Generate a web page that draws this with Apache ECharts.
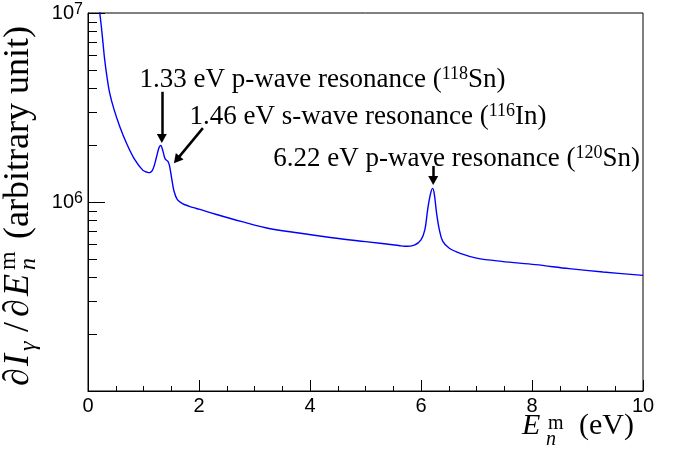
<!DOCTYPE html>
<html>
<head>
<meta charset="utf-8">
<script src="https://cdn.jsdelivr.net/npm/echarts@6/dist/echarts.min.js"></script>
<style>
html,body{margin:0;padding:0;background:#fff;}
#chart{width:678px;height:452px;}
</style>
</head>
<body>
<div id="chart"></div>
<script>
// ---- data ----
const energy = [0.20, 0.24, 0.27, 0.30, 0.34, 0.39, 0.47, 0.57, 0.69, 0.84, 0.99, 1.06, 1.11, 1.17, 1.23, 1.28, 1.31, 1.35, 1.39, 1.44, 1.47, 1.51, 1.55, 1.61, 1.71, 1.80, 1.90, 2.00, 2.30, 2.60, 3.20, 3.80, 4.40, 5.00, 5.60, 5.70, 5.88, 6.00, 6.07, 6.12, 6.17, 6.21, 6.24, 6.28, 6.33, 6.39, 6.51, 6.72, 7.00, 7.45, 8.06, 8.67, 9.28, 10.00];
const intensity = [1.07e7, 8.51e6, 6.95e6, 5.68e6, 4.63e6, 3.78e6, 3.08e6, 2.52e6, 2.06e6, 1.68e6, 1.47e6, 1.44e6, 1.43e6, 1.49e6, 1.71e6, 1.94e6, 1.99e6, 1.86e6, 1.69e6, 1.64e6, 1.55e6, 1.32e6, 1.14e6, 1.03e6, 9.77e5, 9.55e5, 9.33e5, 9.16e5, 8.61e5, 8.13e5, 7.31e5, 6.85e5, 6.47e5, 6.17e5, 5.89e5, 5.83e5, 5.92e5, 6.31e5, 7.14e5, 9.12e5, 1.10e6, 1.18e6, 1.10e6, 8.77e5, 7.14e5, 6.21e5, 5.69e5, 5.33e5, 5.05e5, 4.85e5, 4.66e5, 4.44e5, 4.26e5, 4.09e5];

const xMin = 0, xMax = 10, xInterval = 2;
const yMin = 1e5, yMax = 1e7;
const yMinorTickValues = [2e5, 3e5, 4e5, 5e5, 6e5, 7e5, 8e5, 9e5, 2e6, 3e6, 4e6, 5e6, 6e6, 7e6, 8e6, 9e6];

// annotation texts: [energy, value] anchor of the text's left/middle
const annotationText = [
  '{t|1.33 eV p-wave resonance (}{s|118}{t|Sn)}',
  '{t|1.46 eV s-wave resonance (}{s|116}{t|In)}',
  '{t|6.22 eV p-wave resonance (}{s|120}{t|Sn)}'
];
const annotationX = [0.93, 1.83, 3.34];
const annotationY = [4.42e6, 2.82e6, 1.69e6];

// arrows: start and end points [energy, value]
const arrowStart = [[1.33, 3.83e6], [2.07, 2.46e6], [6.22, 1.55e6]];
const arrowEnd   = [[1.33, 2.17e6], [1.60, 1.675e6], [6.22, 1.30e6]];

const xTitleParts = ['E', 'n', 'm', '(eV)'];
const yTitle = '{d|∂}{I|I}{g|γ}{sl|/}{d2|∂}{E|E}{n|n}{m|m}{sp| }{t|(arbitrary unit)}';

// ---- chart ----
const serif = 'Liberation Serif';
const sans = 'Liberation Sans';

const chart = echarts.init(document.getElementById('chart'), null, {renderer: 'canvas'});

const option = {
  animation: false,
  backgroundColor: '#fff',
  grid: {
    left: 88, right: 35, top: 13, bottom: 61,
    containLabel: false,
    outerBoundsMode: 'none',
    show: true, borderColor: '#000', borderWidth: 1, backgroundColor: 'transparent'
  },
  graphic: [
    {
      type: 'group',
      silent: true,
      children: [
        {type: 'text', x: 522, y: 426, style: {text: xTitleParts[0], font: 'italic 30px "Liberation Serif"', fill: '#000', align: 'left', verticalAlign: 'middle'}},
        {type: 'text', x: 546, y: 440, style: {text: xTitleParts[1], font: 'italic 20px "Liberation Serif"', fill: '#000', align: 'left', verticalAlign: 'middle'}},
        {type: 'text', x: 548, y: 424, style: {text: xTitleParts[2], font: '20px "Liberation Serif"', fill: '#000', align: 'left', verticalAlign: 'middle'}},
        {type: 'text', x: 579, y: 426, style: {text: xTitleParts[3], font: '30px "Liberation Serif"', fill: '#000', align: 'left', verticalAlign: 'middle'}}
      ]
    }
  ],
  xAxis: {
    type: 'value',
    min: xMin, max: xMax, interval: xInterval,
    axisLine: {show: true, onZero: false, lineStyle: {color: '#000', width: 1}},
    axisTick: {show: true, inside: true, length: 11, lineStyle: {color: '#000', width: 1}},
    minorTick: {show: true, splitNumber: 4, length: 5, lineStyle: {color: '#000', width: 1}},
    splitLine: {show: false},
    axisLabel: {color: '#000', fontFamily: sans, fontSize: 20, margin: 5}
  },
  yAxis: {
    type: 'log', logBase: 10,
    min: yMin, max: yMax,
    axisLine: {show: true, lineStyle: {color: '#000', width: 1}},
    axisTick: {show: true, inside: true, length: 17, lineStyle: {color: '#000', width: 1}},
    splitLine: {show: false},
    axisLabel: {
      showMinLabel: false,
      margin: 5,
      formatter: function (v) {
        const e = Math.round(Math.log10(v));
        return '{b|10}{s|' + e + '}';
      },
      rich: {
        b: {fontFamily: sans, fontSize: 20, lineHeight: 22, color: '#000'},
        s: {fontFamily: sans, fontSize: 16, lineHeight: 16, verticalAlign: 'top', color: '#000'}
      }
    },
    name: yTitle,
    nameLocation: 'middle',
    nameRotate: 90,
    nameGap: 35,
    nameTextStyle: {
      align: 'center',
      padding: [0, 8, 0, 0],
      rich: {
        d: {fontFamily: serif, fontStyle: 'italic', fontSize: 36, lineHeight: 44, width: 20, align: 'left', color: '#000'},
        I: {fontFamily: serif, fontStyle: 'italic', fontSize: 36, lineHeight: 44, width: 15, align: 'left', color: '#000'},
        g: {fontFamily: serif, fontStyle: 'italic', fontSize: 24, lineHeight: 26, width: 14, align: 'left', verticalAlign: 'bottom', color: '#000'},
        sl: {fontFamily: serif, fontSize: 36, lineHeight: 44, width: 15, padding: [0, 0, 0, 5], align: 'left', color: '#000'},
        d2: {fontFamily: serif, fontStyle: 'italic', fontSize: 36, lineHeight: 44, width: 21, align: 'left', color: '#000'},
        E: {fontFamily: serif, fontStyle: 'italic', fontSize: 36, lineHeight: 44, width: 26, align: 'left', color: '#000'},
        n: {fontFamily: serif, fontStyle: 'italic', fontSize: 24, lineHeight: 26, width: 0, align: 'left', verticalAlign: 'bottom', color: '#000'},
        m: {fontFamily: serif, fontSize: 24, lineHeight: 28, width: 18, align: 'left', verticalAlign: 'top', color: '#000'},
        sp: {fontFamily: serif, fontSize: 36, lineHeight: 44, width: 13, align: 'left', color: '#000'},
        t: {fontFamily: serif, fontSize: 36, lineHeight: 44, align: 'left', color: '#000'}
      }
    }
  },
  series: [
    {
      type: 'line',
      data: energy.map((e, i) => [e, intensity[i]]),
      showSymbol: false,
      smooth: 0.35,
      clip: true,
      lineStyle: {color: '#0000ff', width: 1.4},
      itemStyle: {color: '#0000ff'},
      silent: true,
      z: 3,
      markLine: {
        silent: true,
        symbol: ['none', 'triangle'],
        symbolSize: [10, 9],
        lineStyle: {color: '#000', width: 2.5, type: 'solid'},
        itemStyle: {color: '#000'},
        label: {show: false},
        emphasis: {disabled: true},
        data: arrowStart.map((s, i) => [{coord: s}, {coord: arrowEnd[i]}])
      },
      markPoint: {
        silent: true,
        symbol: 'circle',
        symbolSize: 0,
        itemStyle: {color: 'rgba(0,0,0,0)'},
        label: {
          show: true, position: 'right', distance: 0, color: '#000',
          rich: {
            t: {fontFamily: serif, fontSize: 27, lineHeight: 29, color: '#000'},
            s: {fontFamily: serif, fontSize: 18, lineHeight: 18, verticalAlign: 'top', color: '#000'}
          }
        },
        data: annotationText.map((txt, i) => ({
          coord: [annotationX[i], annotationY[i]],
          label: {formatter: txt}
        }))
      }
    },
    {
      type: 'custom',
      silent: true,
      clip: false,
      z: 4,
      data: yMinorTickValues.map(v => [xMin, v]),
      renderItem: function (params, api) {
        const p = api.coord([api.value(0), api.value(1)]);
        const y = Math.round(p[1]) + 0.5;
        return {
          type: 'line',
          shape: {x1: p[0], y1: y, x2: p[0] + 9, y2: y},
          style: {stroke: '#000', lineWidth: 1}
        };
      }
    }
  ]
};

chart.setOption(option);
</script>
</body>
</html>
